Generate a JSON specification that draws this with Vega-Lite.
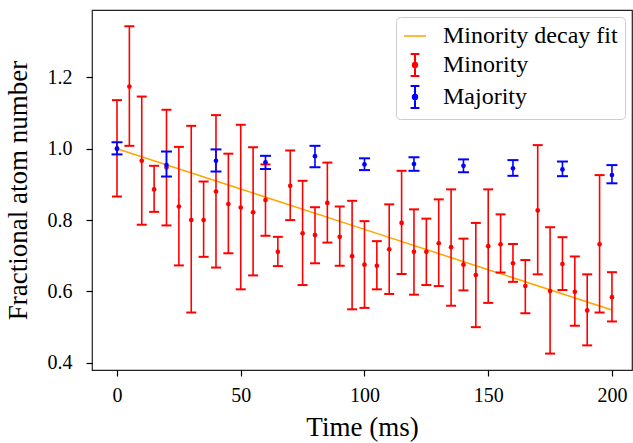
{
  "$schema": "https://vega.github.io/schema/vega-lite/v6.json",
  "autosize": {"type": "none"},
  "padding": {"left": 92, "top": 10, "right": 1, "bottom": 73},
  "width": 540,
  "height": 360,
  "background": "white",
  "config": {
    "view": {"stroke": "#222222", "strokeWidth": 1.2},
    "font": "Liberation Serif",
    "axis": {
      "labelFont": "Liberation Serif",
      "titleFont": "Liberation Serif",
      "labelFontSize": 20,
      "titleFontSize": 27,
      "titleFontWeight": "normal",
      "labelColor": "#000000",
      "titleColor": "#000000",
      "tickColor": "#000000",
      "tickSize": 6,
      "tickWidth": 1.2,
      "domain": false,
      "grid": false
    }
  },
  "datasets": {
    "pts": [
      {"t": 0, "v": 1.000, "lo": 0.866, "hi": 1.136, "series": "Minority"},
      {"t": 5, "v": 1.174, "lo": 1.008, "hi": 1.343, "series": "Minority"},
      {"t": 10, "v": 0.966, "lo": 0.787, "hi": 1.146, "series": "Minority"},
      {"t": 15, "v": 0.886, "lo": 0.823, "hi": 0.952, "series": "Minority"},
      {"t": 20, "v": 0.947, "lo": 0.785, "hi": 1.109, "series": "Minority"},
      {"t": 25, "v": 0.838, "lo": 0.673, "hi": 1.005, "series": "Minority"},
      {"t": 30, "v": 0.800, "lo": 0.541, "hi": 1.064, "series": "Minority"},
      {"t": 35, "v": 0.800, "lo": 0.697, "hi": 0.908, "series": "Minority"},
      {"t": 40, "v": 0.880, "lo": 0.667, "hi": 1.094, "series": "Minority"},
      {"t": 45, "v": 0.845, "lo": 0.707, "hi": 0.986, "series": "Minority"},
      {"t": 50, "v": 0.835, "lo": 0.606, "hi": 1.067, "series": "Minority"},
      {"t": 55, "v": 0.822, "lo": 0.645, "hi": 1.004, "series": "Minority"},
      {"t": 60, "v": 0.856, "lo": 0.756, "hi": 0.956, "series": "Minority"},
      {"t": 65, "v": 0.711, "lo": 0.671, "hi": 0.753, "series": "Minority"},
      {"t": 70, "v": 0.896, "lo": 0.800, "hi": 0.995, "series": "Minority"},
      {"t": 75, "v": 0.763, "lo": 0.618, "hi": 0.910, "series": "Minority"},
      {"t": 80, "v": 0.758, "lo": 0.679, "hi": 0.836, "series": "Minority"},
      {"t": 85, "v": 0.848, "lo": 0.737, "hi": 0.961, "series": "Minority"},
      {"t": 90, "v": 0.753, "lo": 0.672, "hi": 0.838, "series": "Minority"},
      {"t": 95, "v": 0.699, "lo": 0.550, "hi": 0.854, "series": "Minority"},
      {"t": 100, "v": 0.675, "lo": 0.554, "hi": 0.797, "series": "Minority"},
      {"t": 105, "v": 0.672, "lo": 0.606, "hi": 0.741, "series": "Minority"},
      {"t": 110, "v": 0.718, "lo": 0.593, "hi": 0.844, "series": "Minority"},
      {"t": 115, "v": 0.792, "lo": 0.649, "hi": 0.938, "series": "Minority"},
      {"t": 120, "v": 0.711, "lo": 0.591, "hi": 0.830, "series": "Minority"},
      {"t": 125, "v": 0.711, "lo": 0.618, "hi": 0.804, "series": "Minority"},
      {"t": 130, "v": 0.735, "lo": 0.615, "hi": 0.858, "series": "Minority"},
      {"t": 135, "v": 0.724, "lo": 0.560, "hi": 0.886, "series": "Minority"},
      {"t": 140, "v": 0.675, "lo": 0.603, "hi": 0.748, "series": "Minority"},
      {"t": 145, "v": 0.646, "lo": 0.500, "hi": 0.792, "series": "Minority"},
      {"t": 150, "v": 0.727, "lo": 0.568, "hi": 0.886, "series": "Minority"},
      {"t": 155, "v": 0.732, "lo": 0.653, "hi": 0.816, "series": "Minority"},
      {"t": 160, "v": 0.679, "lo": 0.627, "hi": 0.733, "series": "Minority"},
      {"t": 165, "v": 0.615, "lo": 0.539, "hi": 0.688, "series": "Minority"},
      {"t": 170, "v": 0.827, "lo": 0.648, "hi": 1.010, "series": "Minority"},
      {"t": 175, "v": 0.601, "lo": 0.426, "hi": 0.780, "series": "Minority"},
      {"t": 180, "v": 0.677, "lo": 0.604, "hi": 0.752, "series": "Minority"},
      {"t": 185, "v": 0.599, "lo": 0.504, "hi": 0.698, "series": "Minority"},
      {"t": 190, "v": 0.547, "lo": 0.449, "hi": 0.648, "series": "Minority"},
      {"t": 195, "v": 0.732, "lo": 0.541, "hi": 0.926, "series": "Minority"},
      {"t": 200, "v": 0.584, "lo": 0.516, "hi": 0.654, "series": "Minority"},
      {"t": 0, "v": 1.000, "lo": 0.984, "hi": 1.018, "series": "Majority"},
      {"t": 20, "v": 0.954, "lo": 0.922, "hi": 0.992, "series": "Majority"},
      {"t": 40, "v": 0.966, "lo": 0.936, "hi": 0.998, "series": "Majority"},
      {"t": 60, "v": 0.962, "lo": 0.943, "hi": 0.980, "series": "Majority"},
      {"t": 80, "v": 0.979, "lo": 0.948, "hi": 1.008, "series": "Majority"},
      {"t": 100, "v": 0.956, "lo": 0.940, "hi": 0.973, "series": "Majority"},
      {"t": 120, "v": 0.957, "lo": 0.938, "hi": 0.976, "series": "Majority"},
      {"t": 140, "v": 0.952, "lo": 0.934, "hi": 0.970, "series": "Majority"},
      {"t": 160, "v": 0.945, "lo": 0.924, "hi": 0.968, "series": "Majority"},
      {"t": 180, "v": 0.942, "lo": 0.923, "hi": 0.964, "series": "Majority"},
      {"t": 200, "v": 0.926, "lo": 0.903, "hi": 0.954, "series": "Majority"}
    ],
    "fit": [
      {"t": 0, "v": 1.000, "series": "Minority decay fit"},
      {"t": 50, "v": 0.887, "series": "Minority decay fit"},
      {"t": 100, "v": 0.774, "series": "Minority decay fit"},
      {"t": 150, "v": 0.661, "series": "Minority decay fit"},
      {"t": 200, "v": 0.548, "series": "Minority decay fit"}
    ]
  },
  "encoding": {
    "x": {
      "field": "t", "type": "quantitative",
      "scale": {"domain": [-10.1, 208.1], "nice": false, "zero": false},
      "axis": {"title": "Time (ms)", "values": [0, 50, 100, 150, 200], "labelPadding": 9, "titlePadding": 9}
    },
    "color": {
      "field": "series", "type": "nominal",
      "scale": {"domain": ["Minority decay fit", "Minority", "Majority"], "range": ["#ffa500", "#ff0000", "#0000ff"]},
      "legend": {
        "title": null,
        "orient": "top-right",
        "offset": 7,
        "padding": 7,
        "rowPadding": 2,
        "labelFont": "Liberation Serif",
        "labelFontSize": 24,
        "labelColor": "#000000",
        "labelOffset": 16,
        "labelLimit": 400,
        "symbolSize": 484,
        "fillColor": "rgba(255,255,255,0.8)",
        "strokeColor": "#cccccc",
        "cornerRadius": 4,
        "encode": {
          "symbols": {
            "update": {
              "shape": {"signal": "datum.value === 'Minority decay fit' ? 'M-1,0H1' : 'M-0.4,-1H0.4M0,-1V1M-0.4,1H0.4M-0.2,0A0.2,0.2,0,1,0,0.2,0A0.2,0.2,0,1,0,-0.2,0Z'"},
              "fill": {"scale": "color", "field": "value"},
              "stroke": {"scale": "color", "field": "value"},
              "strokeWidth": {"signal": "datum.value === 'Minority decay fit' ? 1.5 : 2"},
              "size": {"value": 484},
              "opacity": {"value": 1},
              "fillOpacity": {"value": 1},
              "strokeOpacity": {"value": 1}
            }
          }
        }
      }
    }
  },
  "layer": [
    {
      "data": {"name": "fit"},
      "mark": {"type": "line", "strokeWidth": 1.5},
      "encoding": {
        "y": {"field": "v", "type": "quantitative", "scale": {"domain": [0.38, 1.3885], "nice": false, "zero": false},
              "axis": {"title": "Fractional atom number", "values": [0.4, 0.6, 0.8, 1.0, 1.2], "format": ".1f", "labelPadding": 14, "titlePadding": 15}}
      }
    },
    {
      "data": {"name": "pts"},
      "transform": [{"filter": "datum.series === 'Minority'"}],
      "mark": {"type": "rule", "strokeWidth": 1.6},
      "encoding": {"y": {"field": "lo", "type": "quantitative"}, "y2": {"field": "hi"}}
    },
    {
      "data": {"name": "pts"},
      "transform": [{"filter": "datum.series === 'Minority'"}],
      "mark": {"type": "tick", "orient": "horizontal", "size": 10, "thickness": 2, "opacity": 1},
      "encoding": {"y": {"field": "lo", "type": "quantitative"}}
    },
    {
      "data": {"name": "pts"},
      "transform": [{"filter": "datum.series === 'Minority'"}],
      "mark": {"type": "tick", "orient": "horizontal", "size": 10, "thickness": 2, "opacity": 1},
      "encoding": {"y": {"field": "hi", "type": "quantitative"}}
    },
    {
      "data": {"name": "pts"},
      "transform": [{"filter": "datum.series === 'Minority'"}],
      "mark": {"type": "point", "filled": true, "size": 22, "opacity": 1},
      "encoding": {"y": {"field": "v", "type": "quantitative"}}
    },
    {
      "data": {"name": "pts"},
      "transform": [{"filter": "datum.series === 'Majority'"}],
      "mark": {"type": "rule", "strokeWidth": 1.6},
      "encoding": {"y": {"field": "lo", "type": "quantitative"}, "y2": {"field": "hi"}}
    },
    {
      "data": {"name": "pts"},
      "transform": [{"filter": "datum.series === 'Majority'"}],
      "mark": {"type": "tick", "orient": "horizontal", "size": 11, "thickness": 2, "opacity": 1},
      "encoding": {"y": {"field": "lo", "type": "quantitative"}}
    },
    {
      "data": {"name": "pts"},
      "transform": [{"filter": "datum.series === 'Majority'"}],
      "mark": {"type": "tick", "orient": "horizontal", "size": 11, "thickness": 2, "opacity": 1},
      "encoding": {"y": {"field": "hi", "type": "quantitative"}}
    },
    {
      "data": {"name": "pts"},
      "transform": [{"filter": "datum.series === 'Majority'"}],
      "mark": {"type": "point", "filled": true, "size": 22, "opacity": 1},
      "encoding": {"y": {"field": "v", "type": "quantitative"}}
    }
  ]
}
